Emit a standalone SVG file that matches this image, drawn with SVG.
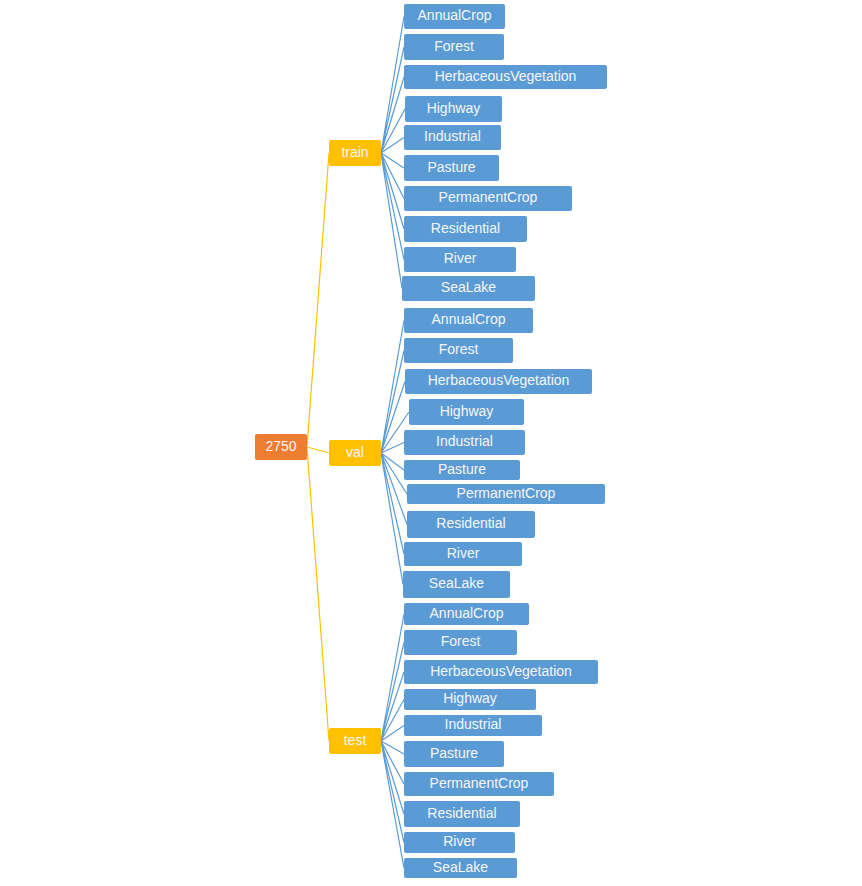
<svg xmlns="http://www.w3.org/2000/svg" width="862" height="886" viewBox="0 0 862 886">
<style>
.bg{fill:#ffffff}
.root{fill:#ED7D31}
.mid{fill:#FFC000}
.leaf{fill:#5B9BD5}
.t{font-family:"Liberation Sans",Arial,sans-serif;font-size:14px;fill:#f4f7fb;text-anchor:middle}
.cy{stroke:#FFC000;stroke-width:1.2;fill:none}
.cb{stroke:#5B9BD5;stroke-width:1.2;fill:none}
</style>
<rect class="bg" x="0" y="0" width="862" height="886"/>
<g id="connectors">
<path class="cy" d="M307,447 L329,153 M307,447 L329,453 M307,447 L329,741"/>
<path class="cb" d="M381,153 L404,16.5 M381,153 L404,47 M381,153 L404,77 M381,153 L405,109 M381,153 L404,137.5 M381,153 L404,168 M381,153 L404,198.5 M381,153 L404,229 M381,153 L404,259.5 M381,153 L402,288.5"/>
<path class="cb" d="M381,453 L404,320.5 M381,453 L404,350.5 M381,453 L405,381.5 M381,453 L409,412 M381,453 L404,442.5 M381,453 L404,470 M381,453 L407,494 M381,453 L407,524.5 M381,453 L404,554 M381,453 L403,584.5"/>
<path class="cb" d="M381,741 L404,614 M381,741 L404,642.5 M381,741 L404,672 M381,741 L404,699.5 M381,741 L404,725.5 M381,741 L404,754 M381,741 L404,784 M381,741 L404,814 M381,741 L404,842.5 M381,741 L404,868"/>
</g>
<g id="n-root"><rect class="root" x="255" y="434" width="52" height="26" rx="2"/><text class="t" x="281" y="450.5">2750</text></g>
<g id="n-train"><rect class="mid" x="329" y="140" width="52" height="26" rx="2"/><text class="t" x="355" y="156.5">train</text></g>
<g id="n-val"><rect class="mid" x="329" y="440" width="52" height="26" rx="2"/><text class="t" x="355" y="456.5">val</text></g>
<g id="n-test"><rect class="mid" x="329" y="728" width="52" height="26" rx="2"/><text class="t" x="355" y="744.5">test</text></g>

<g id="train-annualcrop"><rect class="leaf" x="404" y="4" width="101" height="25" rx="2"/><text class="t" x="454.5" y="20">AnnualCrop</text></g>
<g id="train-forest"><rect class="leaf" x="404" y="34" width="100" height="26" rx="2"/><text class="t" x="454" y="50.5">Forest</text></g>
<g id="train-herb"><rect class="leaf" x="404" y="65" width="203" height="24" rx="2"/><text class="t" x="505.5" y="80.5">HerbaceousVegetation</text></g>
<g id="train-highway"><rect class="leaf" x="405" y="96" width="97" height="26" rx="2"/><text class="t" x="453.5" y="112.5">Highway</text></g>
<g id="train-industrial"><rect class="leaf" x="404" y="125" width="97" height="25" rx="2"/><text class="t" x="452.5" y="141">Industrial</text></g>
<g id="train-pasture"><rect class="leaf" x="404" y="155" width="95" height="26" rx="2"/><text class="t" x="451.5" y="171.5">Pasture</text></g>
<g id="train-permanentcrop"><rect class="leaf" x="404" y="186" width="168" height="25" rx="2"/><text class="t" x="488" y="202">PermanentCrop</text></g>
<g id="train-residential"><rect class="leaf" x="404" y="216" width="123" height="26" rx="2"/><text class="t" x="465.5" y="232.5">Residential</text></g>
<g id="train-river"><rect class="leaf" x="404" y="247" width="112" height="25" rx="2"/><text class="t" x="460" y="263">River</text></g>
<g id="train-sealake"><rect class="leaf" x="402" y="276" width="133" height="25" rx="2"/><text class="t" x="468.5" y="292">SeaLake</text></g>

<g id="val-annualcrop"><rect class="leaf" x="404" y="308" width="129" height="25" rx="2"/><text class="t" x="468.5" y="324">AnnualCrop</text></g>
<g id="val-forest"><rect class="leaf" x="404" y="338" width="109" height="25" rx="2"/><text class="t" x="458.5" y="354">Forest</text></g>
<g id="val-herb"><rect class="leaf" x="405" y="369" width="187" height="25" rx="2"/><text class="t" x="498.5" y="385">HerbaceousVegetation</text></g>
<g id="val-highway"><rect class="leaf" x="409" y="399" width="115" height="26" rx="2"/><text class="t" x="466.5" y="415.5">Highway</text></g>
<g id="val-industrial"><rect class="leaf" x="404" y="430" width="121" height="25" rx="2"/><text class="t" x="464.5" y="446">Industrial</text></g>
<g id="val-pasture"><rect class="leaf" x="404" y="460" width="116" height="20" rx="2"/><text class="t" x="462" y="473.5">Pasture</text></g>
<g id="val-permanentcrop"><rect class="leaf" x="407" y="484" width="198" height="20" rx="2"/><text class="t" x="506" y="497.5">PermanentCrop</text></g>
<g id="val-residential"><rect class="leaf" x="407" y="511" width="128" height="27" rx="2"/><text class="t" x="471" y="528">Residential</text></g>
<g id="val-river"><rect class="leaf" x="404" y="542" width="118" height="24" rx="2"/><text class="t" x="463" y="557.5">River</text></g>
<g id="val-sealake"><rect class="leaf" x="403" y="571" width="107" height="27" rx="2"/><text class="t" x="456.5" y="588">SeaLake</text></g>

<g id="test-annualcrop"><rect class="leaf" x="404" y="603" width="125" height="22" rx="2"/><text class="t" x="466.5" y="617.5">AnnualCrop</text></g>
<g id="test-forest"><rect class="leaf" x="404" y="630" width="113" height="25" rx="2"/><text class="t" x="460.5" y="646">Forest</text></g>
<g id="test-herb"><rect class="leaf" x="404" y="660" width="194" height="24" rx="2"/><text class="t" x="501" y="675.5">HerbaceousVegetation</text></g>
<g id="test-highway"><rect class="leaf" x="404" y="689" width="132" height="21" rx="2"/><text class="t" x="470" y="703">Highway</text></g>
<g id="test-industrial"><rect class="leaf" x="404" y="715" width="138" height="21" rx="2"/><text class="t" x="473" y="729">Industrial</text></g>
<g id="test-pasture"><rect class="leaf" x="404" y="741" width="100" height="26" rx="2"/><text class="t" x="454" y="757.5">Pasture</text></g>
<g id="test-permanentcrop"><rect class="leaf" x="404" y="772" width="150" height="24" rx="2"/><text class="t" x="479" y="787.5">PermanentCrop</text></g>
<g id="test-residential"><rect class="leaf" x="404" y="801" width="116" height="26" rx="2"/><text class="t" x="462" y="817.5">Residential</text></g>
<g id="test-river"><rect class="leaf" x="404" y="832" width="111" height="21" rx="2"/><text class="t" x="459.5" y="846">River</text></g>
<g id="test-sealake"><rect class="leaf" x="404" y="858" width="113" height="20" rx="2"/><text class="t" x="460.5" y="871.5">SeaLake</text></g>
</svg>
